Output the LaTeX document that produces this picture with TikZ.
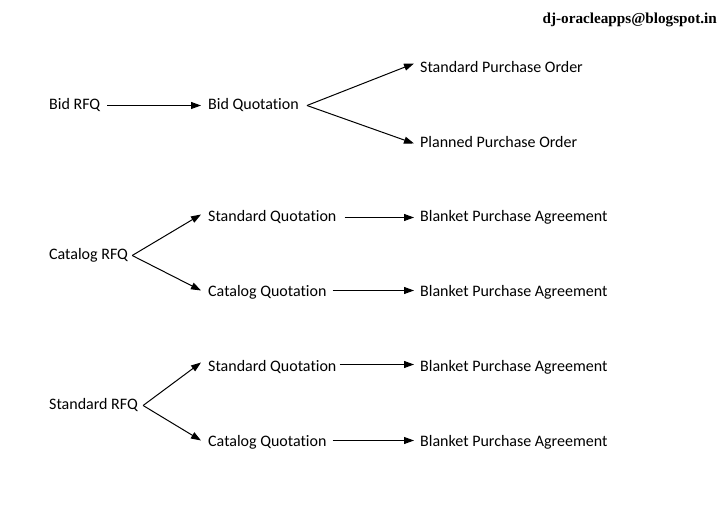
\documentclass[tikz,border=0pt]{standalone}
\usepackage{fontspec}
\setmainfont{Carlito}[RawFeature=-liga]
\newfontfamily\mailfont{Liberation Serif}
\usetikzlibrary{arrows.meta}
\begin{document}
\begin{tikzpicture}[x=1pt,y=-1pt,
  lbl/.style={anchor=west,inner sep=0pt,font=\fontsize{16}{18}\selectfont},
  arr/.style={-{Triangle[length=10pt,width=7pt]},line width=1pt}]
\fill[white] (0,0) rectangle (728,513);
\useasboundingbox (0,0) rectangle (728,513);
\node[anchor=east,inner sep=0pt,font=\mailfont\bfseries\fontsize{15.2}{17}\selectfont] (mail) at (717,20) {dj-oracleapps@blogspot.in};
\begin{scope}[yshift=-1.5pt]
% group 1
\node[lbl] (bidrfq) at (49,104) {Bid RFQ};
\node[lbl] (bidq) at (208,104) {Bid Quotation};
\node[lbl] (spo) at (420,66) {Standard Purchase Order};
\node[lbl] (ppo) at (420,141) {Planned Purchase Order};
\draw[arr] ([xshift=7pt]bidrfq.east) -- ([xshift=-7pt]bidq.west);
\draw[arr] ([xshift=8pt]bidq.east) -- ([xshift=-6pt,yshift=4pt]spo.west);
\draw[arr] ([xshift=8pt]bidq.east) -- ([xshift=-6pt,yshift=-1pt]ppo.west);
% group 2
\node[lbl] (crfq) at (49,254) {Catalog RFQ};
\node[lbl] (sq1) at (208,216) {Standard Quotation};
\node[lbl] (cq1) at (208,291) {Catalog Quotation};
\node[lbl] (bpa1) at (420,216) {Blanket Purchase Agreement};
\node[lbl] (bpa2) at (420,291) {Blanket Purchase Agreement};
\draw[arr] ([xshift=4pt]crfq.east) -- ([xshift=-7pt,yshift=3pt]sq1.west);
\draw[arr] ([xshift=4pt]crfq.east) -- ([xshift=-7pt,yshift=2pt]cq1.west);
\draw[arr] ([xshift=8pt]sq1.east) -- ([xshift=-6pt]bpa1.west);
\draw[arr] ([xshift=6pt,yshift=2pt]cq1.east) -- ([xshift=-6pt,yshift=2pt]bpa2.west);
% group 3
\node[lbl] (srfq) at (49,404) {Standard RFQ};
\node[lbl] (sq2) at (208,366) {Standard Quotation};
\node[lbl] (cq2) at (208,441) {Catalog Quotation};
\node[lbl] (bpa3) at (420,366) {Blanket Purchase Agreement};
\node[lbl] (bpa4) at (420,441) {Blanket Purchase Agreement};
\draw[arr] ([xshift=5pt]srfq.east) -- ([xshift=-7pt,yshift=5pt]sq2.west);
\draw[arr] ([xshift=5pt]srfq.east) -- ([xshift=-7pt,yshift=2pt]cq2.west);
\draw[arr] ([xshift=3pt,yshift=3pt]sq2.east) -- ([xshift=-6pt,yshift=3pt]bpa3.west);
\draw[arr] ([xshift=6pt,yshift=2pt]cq2.east) -- ([xshift=-6pt,yshift=2pt]bpa4.west);
\end{scope}
\end{tikzpicture}
\end{document}
